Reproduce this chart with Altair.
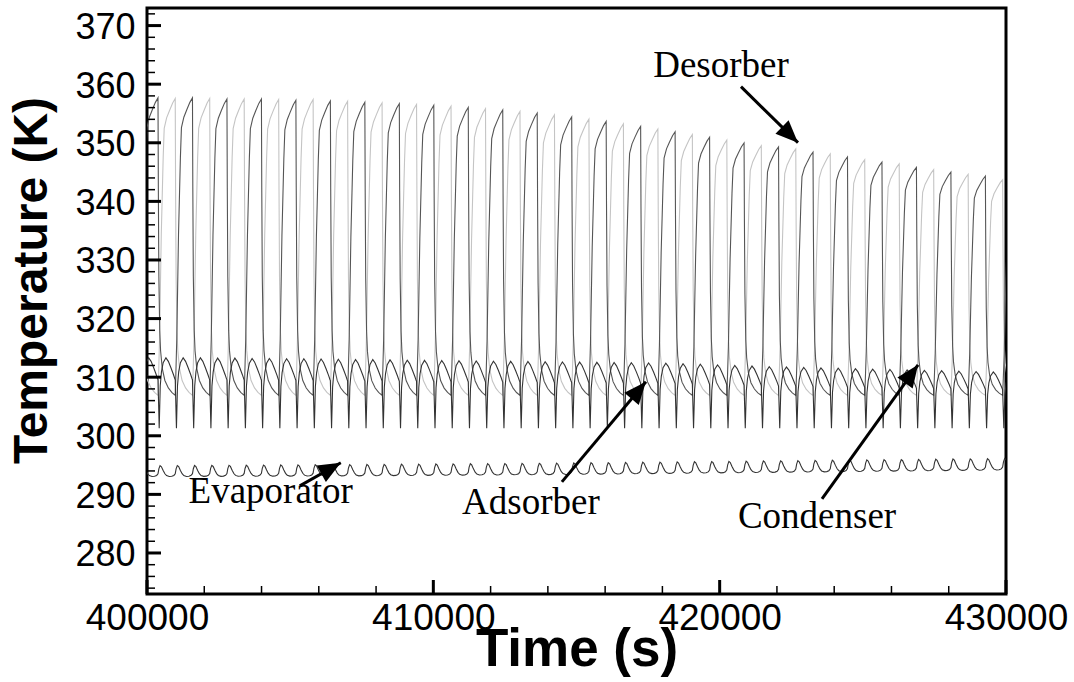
import math
import altair as alt
import pandas as pd

# ---------------- axes ----------------
TIME_DOMAIN = [400000, 430000]
TEMP_DOMAIN = [273, 373]
PLOT_W, PLOT_H = 859, 586

Y_MAJOR = [280, 290, 300, 310, 320, 330, 340, 350, 360, 370]
Y_MINOR = [v for v in range(274, 373, 2) if v % 10 != 0]
X_MAJOR = [400000, 410000, 420000, 430000]
X_MINOR = [v for v in range(402000, 430000, 2000) if v % 10000 != 0]

# ---------------- cycle schedule ----------------
FIRST_SWITCH = 400384      # s, first bed switch inside the window
HALF_CYCLE = 602           # s, adsorption / desorption half cycle

# peak bed temperature reached at each switch (K)
BED_A_PEAKS = [357.66, 357.66, 357.48, 357.48, 357.25, 357.14, 356.90, 356.68,
               356.40, 356.04, 355.60, 355.07, 354.40, 353.63, 352.80, 351.88,
               350.94, 349.98, 349.30, 348.40, 347.60, 346.70, 345.80, 345.00,
               344.30, 343.40]                      # switches 0, 2, ..., 50
BED_B_PEAKS = [357.60, 357.54, 357.54, 357.48, 357.37, 357.37, 357.07, 356.80,
               356.55, 356.23, 355.83, 355.35, 354.76, 354.02, 353.22, 352.35,
               351.40, 350.46, 349.50, 348.95, 348.10, 347.10, 346.40, 345.40,
               344.60, 343.70]                      # switches -1, 1, ..., 49
BED_LOW = 306.9

# bed heating: fraction of half cycle -> fraction of temperature rise
HEAT_F = [0.0, 0.04, 0.09, 0.19, 0.30, 0.36, 0.50, 0.67, 0.85, 1.0]
HEAT_G = [0.0, 0.08, 0.19, 0.54, 0.80, 0.90, 0.935, 0.96, 0.985, 1.0]
# bed cooling: fraction of half cycle -> fraction of temperature above BED_LOW
COOL_F = [0.0, 0.02, 0.05, 0.10, 0.15, 0.25, 0.40, 0.60, 0.80, 1.0]
COOL_G = [1.0, 0.70, 0.40, 0.22, 0.15, 0.09, 0.05, 0.025, 0.01, 0.0]

# condenser: one peak per half cycle (half cycles -1 ... 49)
CONDENSER_PEAKS = [313.30, 313.30, 313.30, 313.30, 313.25, 313.25, 313.20, 313.20,
                   313.15, 313.15, 313.10, 313.05, 313.00, 313.00, 312.95,
                   312.90, 312.87, 312.83, 312.80, 312.77, 312.73, 312.70, 312.67,
                   312.63, 312.60, 312.57, 312.53, 312.50, 312.47, 312.43, 312.40,
                   312.30, 312.20, 312.10, 312.00, 311.90,
                   311.80, 311.73, 311.66, 311.59, 311.52, 311.45, 311.38, 311.31,
                   311.24, 311.17, 311.10, 311.03, 310.96, 310.89, 310.82]
CONDENSER_LOW = 301.3
COND_F = [0.0, 0.07, 0.13, 0.20, 0.30, 0.46, 0.60, 0.75, 0.90, 0.98]
COND_G = [0.69, 0.0, 0.60, 0.80, 0.93, 1.0, 0.95, 0.86, 0.76, 0.70]

# evaporator: peak and trough per half cycle (half cycles -1 ... 49)
EVAP_PEAKS = [294.90, 294.90, 294.92, 294.93, 294.95, 294.96, 294.98, 295.00,
              295.02, 295.03, 295.05, 295.06, 295.08, 295.10, 295.12,
              295.14, 295.16, 295.18, 295.20, 295.22, 295.24, 295.26, 295.28,
              295.30, 295.33, 295.36, 295.39, 295.42, 295.45, 295.48, 295.51,
              295.54, 295.57, 295.60, 295.63, 295.66,
              295.70, 295.73, 295.76, 295.79, 295.82, 295.85, 295.88, 295.91,
              295.94, 295.97, 296.00, 296.03, 296.06, 296.09, 296.12]
EVAP_LOWS = [293.05, 293.05, 293.06, 293.07, 293.08, 293.09, 293.10, 293.11,
             293.12, 293.13, 293.14, 293.15, 293.16, 293.18, 293.20,
             293.22, 293.24, 293.26, 293.28, 293.30, 293.32, 293.34, 293.36,
             293.38, 293.40, 293.43, 293.46, 293.49, 293.52, 293.55, 293.58,
             293.61, 293.64, 293.67, 293.70, 293.73,
             293.76, 293.79, 293.82, 293.85, 293.88, 293.91, 293.94, 293.97,
             294.00, 294.03, 294.06, 294.09, 294.12, 294.15, 294.18]
EVAP_F = [0.0, 0.05, 0.12, 0.20, 0.30, 0.40, 0.50, 0.65, 0.80, 0.92]
EVAP_G = [0.25, 0.70, 1.0, 0.90, 0.55, 0.25, 0.08, 0.0, 0.02, 0.10]

# ---------------- annotations ----------------
LABELS = pd.DataFrame({
    "text": ["Desorber", "Evaporator", "Adsorber", "Condenser"],
    "t": [420045, 404322, 413408, 423400],
    "T": [361.3, 288.6, 286.6, 284.3],
})
ARROWS = pd.DataFrame({
    "t0": [420744, 405335, 414490, 423574],
    "T0": [359.58, 291.46, 292.14, 289.24],
    "t1": [422735, 406768, 417425, 426928],
    "T1": [350.02, 295.39, 309.22, 312.12],
})

# ---------------- build the traces ----------------
rows = []


def add_points(series, start, f_list, values):
    for f, v in zip(f_list, values):
        rows.append({"series": series, "t": start + f * HALF_CYCLE, "T": v})


def bed_trace(series, peaks, first_k):
    peak_at = {first_k + 2 * i: p for i, p in enumerate(peaks)}
    for j in range(-1, 50):
        start = FIRST_SWITCH + j * HALF_CYCLE
        if j in peak_at:
            span = peak_at[j] - BED_LOW
            add_points(series, start, COOL_F, [BED_LOW + span * g for g in COOL_G])
        else:
            span = peak_at[j + 1] - BED_LOW
            add_points(series, start, HEAT_F, [BED_LOW + span * g for g in HEAT_G])


bed_trace("Bed B", BED_B_PEAKS, -1)
bed_trace("Bed A", BED_A_PEAKS, 0)

for i, j in enumerate(range(-1, 50)):
    start = FIRST_SWITCH + j * HALF_CYCLE
    span = CONDENSER_PEAKS[i] - CONDENSER_LOW
    add_points("Condenser", start, COND_F, [CONDENSER_LOW + span * g for g in COND_G])
    span = EVAP_PEAKS[i] - EVAP_LOWS[i]
    add_points("Evaporator", start, EVAP_F, [EVAP_LOWS[i] + span * g for g in EVAP_G])

df = pd.DataFrame(rows)
df["i"] = range(len(df))

# arrowhead orientation in screen space
sx = PLOT_W / (TIME_DOMAIN[1] - TIME_DOMAIN[0])
sy = PLOT_H / (TEMP_DOMAIN[1] - TEMP_DOMAIN[0])
ARROWS["angle"] = [
    math.degrees(math.atan2((b - a) * sx, (d - c) * sy)) % 360
    for a, b, c, d in zip(ARROWS.t0, ARROWS.t1, ARROWS.T0, ARROWS.T1)
]

# ---------------- chart ----------------
xs = alt.Scale(domain=TIME_DOMAIN, nice=False, zero=False)
ys = alt.Scale(domain=TEMP_DOMAIN, nice=False, zero=False)

# one shared axis definition, used by every layer so they merge cleanly
x_axis = alt.Axis(values=X_MAJOR, format="d", title="Time (s)", ticks=False, tickSize=0,
                  domain=False, grid=False, labelFontSize=37, labelPadding=6,
                  labelFlush=False, labelOverlap=False, titleFontSize=53,
                  titleFontWeight="bold", titleBaseline="alphabetic", titleY=71)
y_axis = alt.Axis(values=Y_MAJOR, format="d", title="Temperature (K)", ticks=False, tickSize=0,
                  domain=False, grid=False, labelFontSize=36, labelPadding=12,
                  labelOffset=2, labelFlush=False, labelOverlap=False,
                  titleFontSize=48, titleFontWeight="bold", titleBaseline="alphabetic",
                  titleAngle=270, titleX=-101, titleY=272, titleAlign="center")


def X(field):
    return alt.X(field, type="quantitative", scale=xs, axis=x_axis)


def Y(field):
    return alt.Y(field, type="quantitative", scale=ys, axis=y_axis)


base = alt.Chart(df)


def trace(name, color, width=1.1):
    return base.transform_filter(alt.datum.series == name).mark_line(
        color=color, strokeWidth=width, clip=True
    ).encode(x=X("t"), y=Y("T"), order="i:Q")


layers = [
    trace("Bed B", "#c4c4c4"),
    trace("Bed A", "#555555"),
    trace("Condenser", "#333333"),
    trace("Evaporator", "#333333"),
]


# inward tick marks
def yticks(values, length, width):
    return alt.Chart(pd.DataFrame({"v": values})).mark_rule(color="black", strokeWidth=width).encode(
        y=Y("v"), x=alt.value(0), x2=alt.value(length))


def xticks(values, length, width):
    return alt.Chart(pd.DataFrame({"v": values})).mark_rule(color="black", strokeWidth=width).encode(
        x=X("v"), y=alt.value(PLOT_H), y2=alt.value(PLOT_H - length))


layers += [yticks(Y_MAJOR, 14, 3), yticks(Y_MINOR, 8, 1.5),
           xticks(X_MAJOR, 14, 3), xticks(X_MINOR, 8, 1.5)]

# annotation arrows and labels
ARROW_HEAD = "M0,0 L-0.42,1 L0.42,1 Z"
layers += [
    alt.Chart(ARROWS).mark_rule(color="black", strokeWidth=3).encode(
        x=X("t0"), y=Y("T0"), x2="t1:Q", y2="T1:Q"),
    alt.Chart(ARROWS).mark_point(shape=ARROW_HEAD, filled=True, color="black",
                                 opacity=1, size=2000, strokeWidth=0).encode(
        x=X("t1"), y=Y("T1"), angle=alt.Angle("angle:Q", scale=None)),
    alt.Chart(LABELS).mark_text(font="Liberation Serif", fontSize=37, color="black",
                                align="center", baseline="alphabetic").encode(
        x=X("t"), y=Y("T"), text="text:N"),
]

chart = alt.layer(*layers).properties(
    width=PLOT_W, height=PLOT_H, autosize="none",
    padding={"left": 147, "top": 8, "right": 68, "bottom": 88},
    background="white",
).configure_view(
    stroke="black", strokeWidth=3
).configure_axis(
    labelFont="Liberation Sans", titleFont="Liberation Sans",
    labelColor="black", titleColor="black",
)

chart.save("out.html", embed_options={"renderer": "svg", "actions": False})
